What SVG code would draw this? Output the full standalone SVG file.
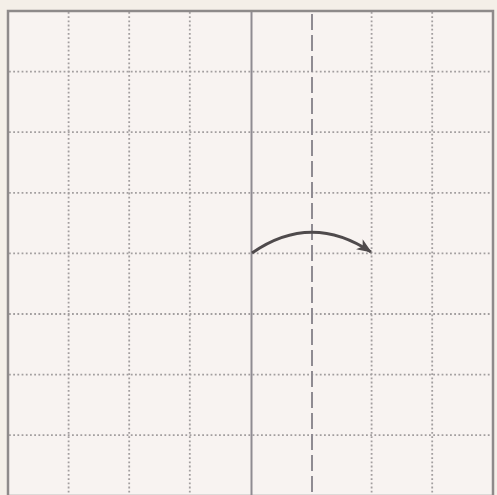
<svg xmlns="http://www.w3.org/2000/svg" width="497" height="495" viewBox="0 0 497 495">
<style>
.grid{stroke:#a29e9f;stroke-width:1.8;stroke-dasharray:1.8 2.4;fill:none}
.edge{fill:#f8f3f1;stroke:#8e8a8a;stroke-width:2.5}
.valley{stroke:#8f8b92;stroke-width:2;fill:none}
.mountain{stroke:#8f8b92;stroke-width:2;stroke-dasharray:16 5;fill:none}
.arrow{stroke:#4f4a4c;stroke-width:2.8;fill:none}
</style>
<defs>
<marker id="ah" markerWidth="15" markerHeight="12" refX="14" refY="6" orient="auto" markerUnits="userSpaceOnUse">
<path d="M0,0 L15,6 L0,12 L4,6 Z" fill="#4f4a4c"/>
</marker>
</defs>
<rect x="0" y="0" width="497" height="495" fill="#f4efe8"/>
<g id="paper">
<rect class="edge" x="8" y="11" width="485" height="485"/>
</g>
<g id="grid">
<path class="grid" d="M68.6,12 V495 M129.2,12 V495 M189.8,12 V495 M371.6,12 V495 M432.2,12 V495"/>
<path class="grid" d="M9,71.6 H492 M9,132.2 H492 M9,192.8 H492 M9,253.4 H492 M9,314 H492 M9,374.6 H492 M9,435.2 H492"/>
</g>
<g id="connectors">
<path class="valley" d="M251.5,12 V495"/>
<path class="mountain" d="M312,14 V495"/>
<path class="arrow" d="M252,253 Q311,212 371,252" marker-end="url(#ah)"/>
</g>
</svg>
